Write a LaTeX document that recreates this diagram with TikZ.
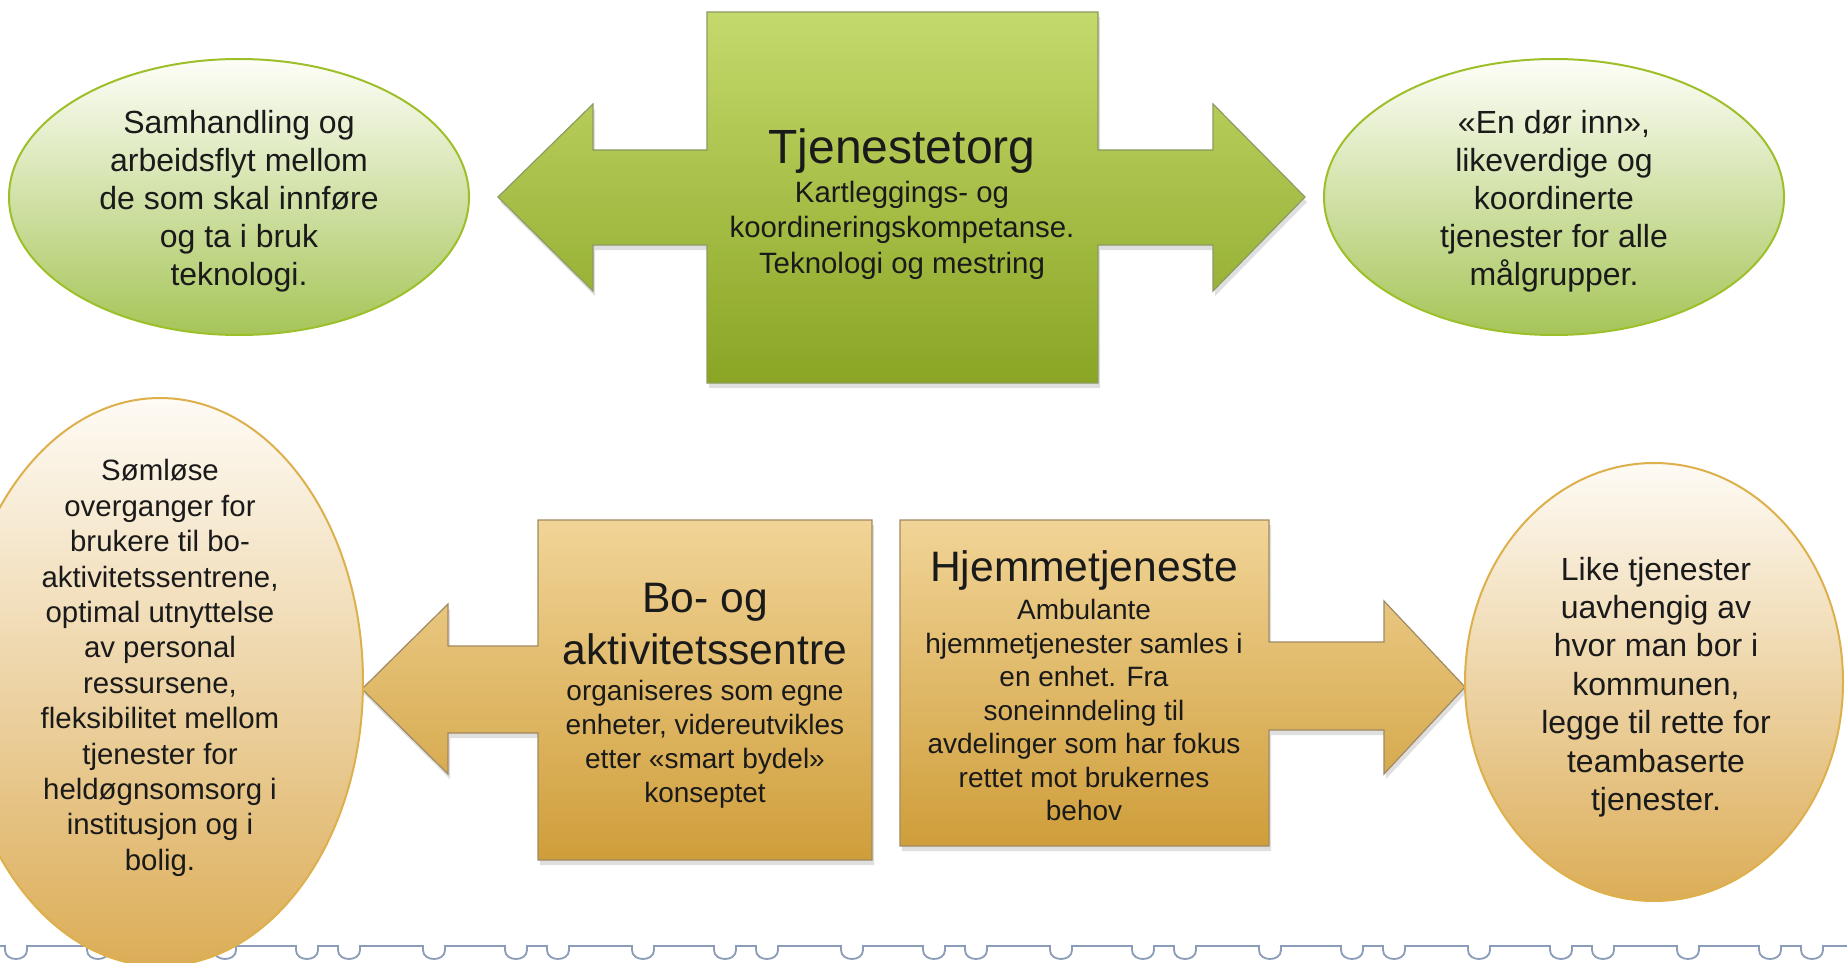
\documentclass[tikz,border=0pt]{standalone}
\usepackage{fontspec}
\setmainfont{Liberation Sans}
\usetikzlibrary{shapes.geometric,shadows}
\definecolor{gTop}{HTML}{C4D96C}
\definecolor{gBot}{HTML}{8AA524}
\definecolor{gEdge}{HTML}{8C9B60}
\definecolor{oTop}{HTML}{F1D497}
\definecolor{oBot}{HTML}{CF9E3A}
\definecolor{oEdge}{HTML}{A08A63}
\definecolor{geTop}{HTML}{FDFEF8}
\definecolor{geMid}{HTML}{E0EBBA}
\definecolor{geBot}{HTML}{A6C558}
\definecolor{geLine}{HTML}{9DC02A}
\definecolor{oeTop}{HTML}{FEFBF5}
\definecolor{oeMid}{HTML}{F1DDB4}
\definecolor{oeBot}{HTML}{DCAD57}
\definecolor{oeLine}{HTML}{DDB04C}
\definecolor{uCol}{HTML}{8A9CB8}
\definecolor{txt}{HTML}{1A1A1A}
\tikzset{
  greenshape/.style={top color=gTop, bottom color=gBot, draw=gEdge, line width=0.6pt,
    drop shadow={shadow xshift=1pt, shadow yshift=-2.5pt, opacity=0.25}},
  goldshape/.style={top color=oTop, bottom color=oBot, draw=oEdge, line width=0.6pt,
    drop shadow={shadow xshift=1pt, shadow yshift=-2.5pt, opacity=0.25}},
  greenell/.style={ellipse, inner sep=0pt, top color=geTop, middle color=geMid, bottom color=geBot, draw=geLine, line width=1pt},
  goldell/.style={ellipse, inner sep=0pt, top color=oeTop, middle color=oeMid, bottom color=oeBot, draw=oeLine, line width=1pt},
  txtnode/.style={align=center, text=txt, inner sep=0pt},
  uline/.style={draw=uCol, line width=0.9pt}
}
\begin{document}
\begin{tikzpicture}[x=0.5pt,y=-0.5pt]
\useasboundingbox (0,0) rectangle (1847,963);
\fill[white] (0,0) rectangle (1847,963);

% decorative bottom line
\draw[uline] (0,946)
  foreach \c in {16,98,140,225,307,349,434,516,558,643,725,767,852,934,976,1061,1143,1185,1270,1352,1394,1479,1561,1603,1688,1770,1812}
  { -- ({\c-11},946) -- ({\c-11},950) .. controls ({\c-11},962) and ({\c+11},962) .. ({\c+11},950) -- ({\c+11},946) }
  -- (1847,946);

% top: Tjenestetorg double arrow
\path[greenshape] (498,197) -- (593,104) -- (593,150) -- (707,150) -- (707,12) -- (1098,12) -- (1098,150)
  -- (1213,150) -- (1213,104) -- (1305,197) -- (1213,291) -- (1213,245) -- (1098,245) -- (1098,383)
  -- (707,383) -- (707,245) -- (593,245) -- (593,291) -- cycle;
\node[txtnode, font=\fontsize{24}{28}\selectfont] (tjt) at (902,151) {Tjenestetorg};
\node[txtnode, font=\fontsize{14.7}{17.7}\selectfont] (tjs) at (902,230)
  {Kartleggings- og\\koordineringskompetanse.\\Teknologi og mestring};

% top ellipses
\node[greenell, minimum width=230pt, minimum height=138pt] (e1) at (239,197) {};
\node[txtnode, font=\fontsize{16}{19}\selectfont] (e1t) at (239,201)
  {Samhandling og\\arbeidsflyt mellom\\de som skal innføre\\og ta i bruk\\teknologi.};
\node[greenell, minimum width=230pt, minimum height=138pt] (e2) at (1554,197) {};
\node[txtnode, font=\fontsize{16}{19}\selectfont] (e2t) at (1554,201)
  {«En dør inn»,\\likeverdige og\\koordinerte\\tjenester for alle\\målgrupper.};

% bottom left: Bo- og aktivitetssentre with left arrow
\path[goldshape] (362,689) -- (448,604) -- (448,646) -- (538,646) -- (538,520) -- (872,520)
  -- (872,860) -- (538,860) -- (538,733) -- (448,733) -- (448,774) -- cycle;
\node[txtnode, font=\fontsize{21.3}{26}\selectfont] (bot) at (705,624) {Bo- og\\aktivitetssentre};
\node[txtnode, font=\fontsize{14}{17}\selectfont] (bos) at (705,744)
  {organiseres som egne\\enheter, videreutvikles\\etter «smart bydel»\\konseptet};

% bottom middle: Hjemmetjeneste with right arrow
\path[goldshape] (900,520) -- (1269,520) -- (1269,642) -- (1384,642) -- (1384,601) -- (1465,687)
  -- (1384,774) -- (1384,730) -- (1269,730) -- (1269,846) -- (900,846) -- cycle;
\node[txtnode, font=\fontsize{21.3}{26}\selectfont] (hjt) at (1084,570) {Hjemmetjeneste};
\node[txtnode, font=\fontsize{14}{16.75}\selectfont] (hjs) at (1084,710)
  {Ambulante\\hjemmetjenester samles i\\en enhet. Fra\\soneinndeling til\\avdelinger som har fokus\\rettet mot brukernes\\behov};

% bottom ellipses
\node[goldell, minimum width=203pt, minimum height=284pt] (e3) at (160,682) {};
\node[txtnode, font=\fontsize{14.7}{17.7}\selectfont] (e3t) at (160,668)
  {Sømløse\\overganger for\\brukere til bo-\\aktivitetssentrene,\\optimal utnyttelse\\av personal\\ressursene,\\fleksibilitet mellom\\tjenester for\\heldøgnsomsorg i\\institusjon og i\\bolig.};
\node[goldell, minimum width=189pt, minimum height=219pt] (e4) at (1654,682) {};
\node[txtnode, font=\fontsize{16}{19.2}\selectfont] (e4t) at (1656,687)
  {Like tjenester\\uavhengig av\\hvor man bor i\\kommunen,\\legge til rette for\\teambaserte\\tjenester.};
\end{tikzpicture}
\end{document}
